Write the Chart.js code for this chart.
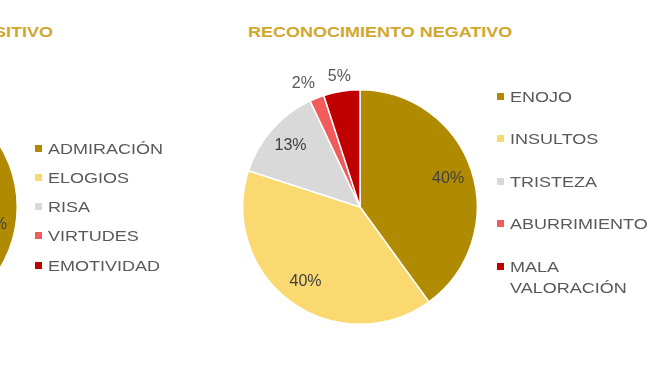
<!DOCTYPE html>
<html>
<head>
<meta charset="utf-8">
<script src="https://cdn.jsdelivr.net/npm/chart.js@4"></script>
<style>
  html, body { margin:0; padding:0; background:#ffffff; }
  body { width:650px; height:365px; position:relative; overflow:hidden; font-family:"Liberation Sans", Arial, sans-serif; }
  .cv { position:absolute; }
  .title { position:absolute; font-weight:bold; font-size:15px; line-height:15px; color:#D1A72C; white-space:nowrap; }
  .leg { position:absolute; font-size:15px; line-height:21px; color:#595959; }
  .leg .mk { position:absolute; left:0; top:7px; width:7px; height:7px; }
  .leg .tx { position:absolute; left:13px; top:0; transform:scaleX(1.2); transform-origin:left top; }
</style>
</head>
<body>
<div class="cv" style="left:-260px;top:57px;width:320px;height:300px;"><canvas id="cPos" width="320" height="300"></canvas></div>
<div class="cv" style="left:200px;top:57px;width:320px;height:300px;"><canvas id="cNeg" width="320" height="300"></canvas></div>
<div class="title" id="tPos" style="right:597px;top:24px;transform:scaleX(1.2);transform-origin:right top;"></div>
<div class="title" id="tNeg" style="left:248px;top:24px;transform:scaleX(1.2);transform-origin:left top;"></div>
<div id="legPos"></div>
<div id="legNeg"></div>
<script>
// ---- data ----
const titlePositive = "RECONOCIMIENTO POSITIVO";
const titleNegative = "RECONOCIMIENTO NEGATIVO";
const positiveCategories = ["ADMIRACIÓN", "ELOGIOS", "RISA", "VIRTUDES", "EMOTIVIDAD"];
const positiveValues = [56, 26, 10, 5, 3];
const negativeCategories = ["ENOJO", "INSULTOS", "TRISTEZA", "ABURRIMIENTO", "MALA VALORACIÓN"];
const negativeValues = [40, 40, 13, 2, 5];
const sliceColors = ["#B08A00", "#F9D970", "#D9D9D9", "#F25B5B", "#C00000"];

// ---- label plugin ----
const pctLabels = {
  id: 'pctLabels',
  afterDatasetsDraw(chart) {
    const ctx = chart.ctx;
    const ds = chart.data.datasets[0];
    const meta = chart.getDatasetMeta(0);
    const total = ds.data.reduce((a, b) => a + b, 0);
    const pos = [];
    meta.data.forEach((arc, i) => {
      const p = arc.getProps(['x', 'y', 'startAngle', 'endAngle', 'outerRadius'], true);
      const mid = (p.startAngle + p.endAngle) / 2;
      const frac = ds.data[i] / total;
      const inside = frac >= 0.08;
      const d = inside ? p.outerRadius * 0.79 : p.outerRadius + 15;
      pos.push({ x: p.x + Math.cos(mid) * d, y: p.y + Math.sin(mid) * d, t: Math.round(frac * 100) + '%', inside });
    });
    for (let i = pos.length - 2; i >= 0; i--) {
      const a = pos[i], b = pos[i + 1];
      if (!a.inside && !b.inside && b.x - a.x < 36) a.x = b.x - 36;
    }
    ctx.save();
    ctx.font = '16px "Liberation Sans", Arial, sans-serif';
    ctx.textAlign = 'center';
    ctx.textBaseline = 'middle';
    pos.forEach(p => {
      ctx.fillStyle = p.inside ? '#404040' : '#595959';
      ctx.fillText(p.t, p.x, p.y);
    });
    ctx.restore();
  }
};

function makePie(id, labels, values) {
  new Chart(document.getElementById(id), {
    type: 'pie',
    data: { labels: labels, datasets: [{ data: values, backgroundColor: sliceColors, borderColor: '#ffffff', borderWidth: 1.5 }] },
    options: {
      responsive: false,
      animation: false,
      layout: { padding: { left: 42, right: 42, top: 32, bottom: 32 } },
      plugins: { legend: { display: false }, tooltip: { enabled: false } }
    },
    plugins: [pctLabels]
  });
}
makePie('cPos', positiveCategories, positiveValues);
makePie('cNeg', negativeCategories, negativeValues);

document.getElementById('tPos').textContent = titlePositive;
document.getElementById('tNeg').textContent = titleNegative;

function makeLegend(id, labels, left, top, step, textWidth) {
  const host = document.getElementById(id);
  labels.forEach((lab, i) => {
    const item = document.createElement('div');
    item.className = 'leg';
    item.style.left = left + 'px';
    item.style.top = (top + i * step) + 'px';
    const mk = document.createElement('span');
    mk.className = 'mk';
    mk.style.background = sliceColors[i];
    const tx = document.createElement('span');
    tx.className = 'tx';
    tx.style.width = textWidth + 'px';
    tx.textContent = lab;
    item.appendChild(mk);
    item.appendChild(tx);
    host.appendChild(item);
  });
}
makeLegend('legPos', positiveCategories, 35, 137.5, 29.3, 200);
makeLegend('legNeg', negativeCategories, 497, 85.5, 42.5, 122);
</script>
</body>
</html>
